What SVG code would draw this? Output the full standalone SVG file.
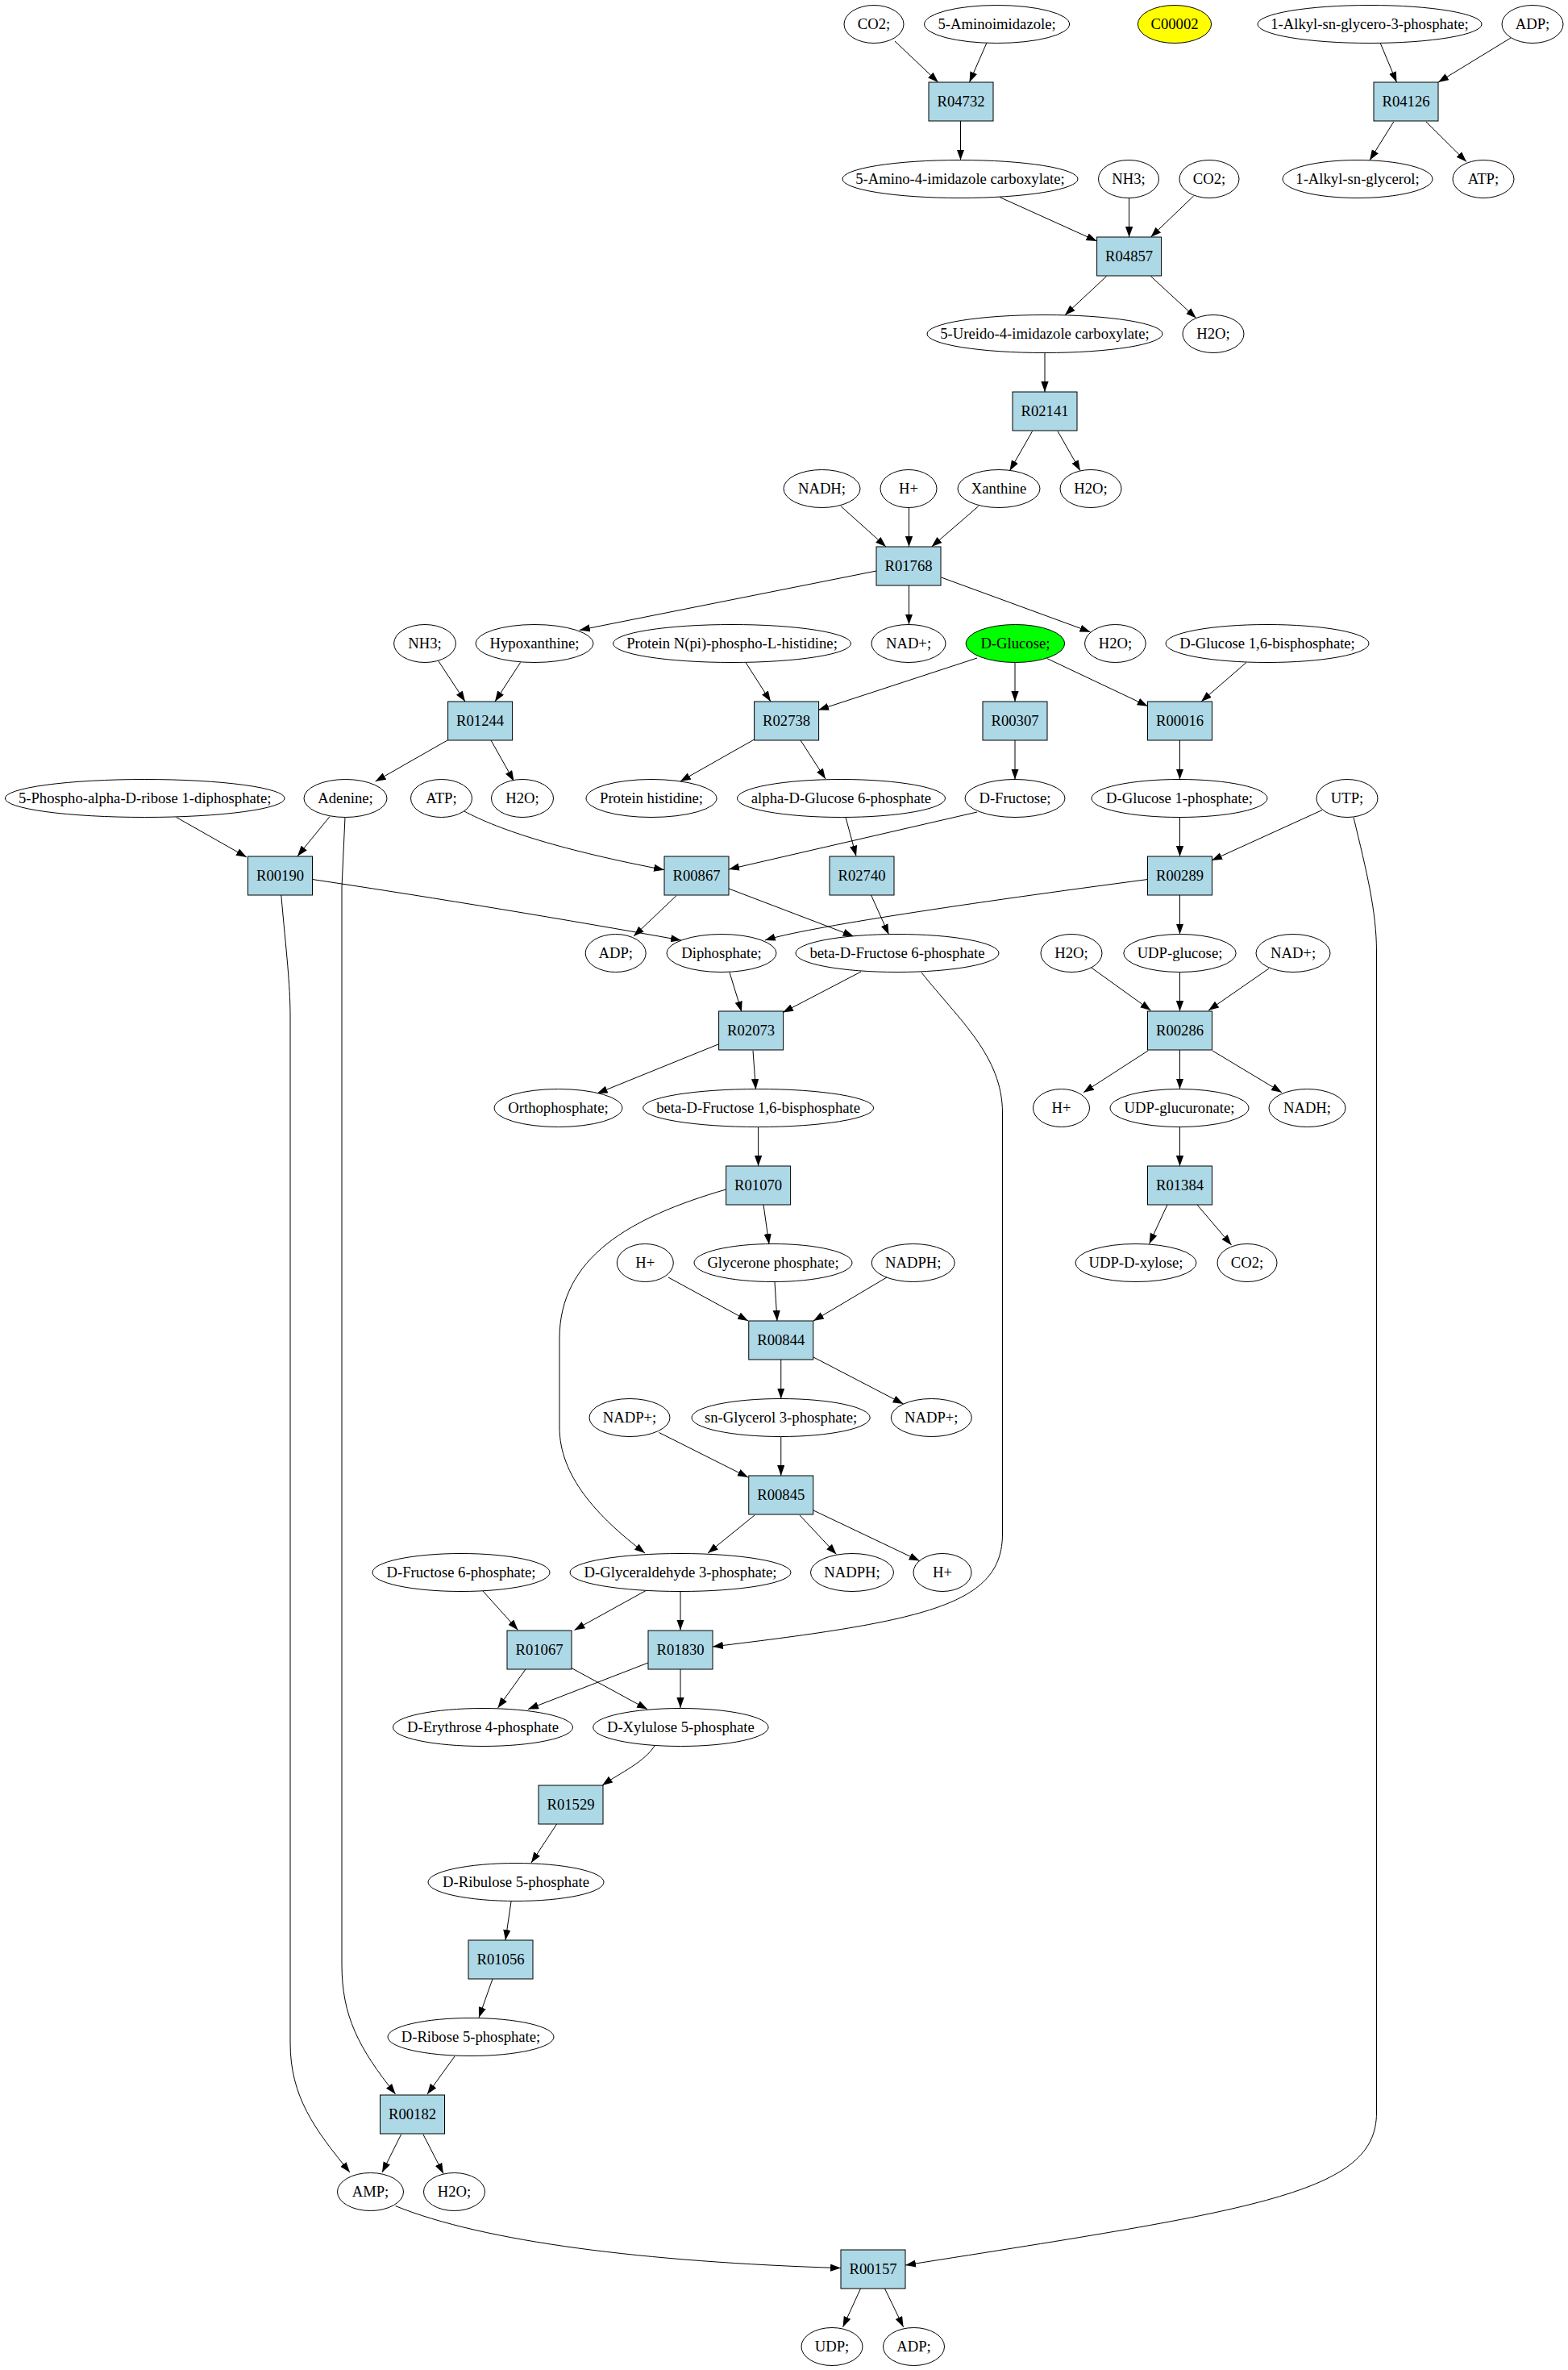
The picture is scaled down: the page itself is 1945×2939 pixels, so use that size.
<svg xmlns="http://www.w3.org/2000/svg" width="1945" height="2939" viewBox="0 0 1945 2939">
<style>
.n ellipse{fill:#fff;stroke:#000;stroke-width:1}
.r rect{fill:#add8e6;stroke:#000;stroke-width:1}
text{font-family:"Liberation Serif","Times New Roman",serif;font-size:18.67px;text-anchor:middle;fill:#000}
#edges path{fill:none;stroke:#000;stroke-width:1;marker-end:url(#a)}
</style>
<defs>
<marker id="a" markerUnits="userSpaceOnUse" markerWidth="14" markerHeight="10" refX="13" refY="4.65" orient="auto"><path d="M0,0 L13,4.65 L0,9.3 z" fill="#000"/></marker>
</defs>
<rect width="1945" height="2939" fill="#fff"/>
<g id="edges">
<path d="M1110,51 L1163.75,102"/>
<path d="M1224,53 L1202.5,102"/>
<path d="M1191.5,150 L1191.5,198.5"/>
<path d="M1712,53 L1732.5,102"/>
<path d="M1874,47 L1784,102"/>
<path d="M1728.75,151 L1699,198.7"/>
<path d="M1769,151 L1819,200.6"/>
<path d="M1240,244.5 L1360.6,299"/>
<path d="M1400.6,245.4 L1400.6,294"/>
<path d="M1480.6,243 L1427.5,294"/>
<path d="M1372.5,342.6 L1321,390.7"/>
<path d="M1427.5,342.6 L1483.75,394.5"/>
<path d="M1296,437.5 L1296,486"/>
<path d="M1280.6,534.7 L1252.5,583.8"/>
<path d="M1312,534.7 L1340,583.8"/>
<path d="M1043,627.7 L1099,678"/>
<path d="M1127.5,629.5 L1127.5,678"/>
<path d="M1213.75,627.7 L1155.6,678"/>
<path d="M1087,708 L718.75,781.4"/>
<path d="M1127.5,726 L1127.5,774.5"/>
<path d="M1167.5,716 L1352.5,783.7"/>
<path d="M543.75,819.6 L577,870"/>
<path d="M645.6,821.5 L614,870"/>
<path d="M925,821.5 L956,870"/>
<path d="M1212,816 L1015,880.5"/>
<path d="M1259,821.5 L1259,870"/>
<path d="M1299,816.7 L1423.75,875.7"/>
<path d="M1546,821.5 L1490,870"/>
<path d="M555,918 L465.6,969"/>
<path d="M609,918 L637.5,968.7"/>
<path d="M935.6,917 L843.75,969"/>
<path d="M993,918 L1024,966"/>
<path d="M1259,918 L1259,966.5"/>
<path d="M1463.5,918 L1463.5,966.5"/>
<path d="M218.75,1013.5 L306,1063"/>
<path d="M409,1012.6 L369,1061.7"/>
<path d="M575,1005.5 C620,1030 700,1055 824,1078.7"/>
<path d="M1212,1007 L904,1078"/>
<path d="M1049,1013.5 L1062,1061.7"/>
<path d="M1463.5,1013.5 L1463.5,1062"/>
<path d="M1640,1004.6 L1503,1067"/>
<path d="M387.5,1090.5 C550,1115 700,1140 845,1166"/>
<path d="M348.75,1110 C355,1180 360,1220 360,1260 L360,2533 C360,2600 390,2640 434,2694"/>
<path d="M428,1013.5 L424,1100 L424,2436 C424,2500 445,2540 490.6,2597"/>
<path d="M839,1110.7 L786,1161"/>
<path d="M904,1102 L1058.75,1161"/>
<path d="M1080.6,1110 L1102.5,1159"/>
<path d="M1423.75,1090.5 C1200,1120 1000,1150 948.75,1166"/>
<path d="M1463.5,1110 L1463.5,1158.5"/>
<path d="M1679,1013.5 C1695,1080 1707.5,1130 1707.5,1180 L1707.5,2620 C1707.5,2720 1560,2740 1123,2809"/>
<path d="M905,1206 L920,1254.7"/>
<path d="M1068,1205 L971,1255.6"/>
<path d="M1143,1206 C1190,1265 1243.5,1310 1243.5,1380 L1243.5,1902 C1243.5,1990 1150,2010 884,2042"/>
<path d="M1353.75,1200 L1427.5,1253"/>
<path d="M1463.5,1206 L1463.5,1254"/>
<path d="M1574,1201 L1499,1253"/>
<path d="M891,1295 L740.6,1356"/>
<path d="M934,1303 L937.5,1351"/>
<path d="M1424,1303 L1344,1354.7"/>
<path d="M1463.5,1302 L1463.5,1350.5"/>
<path d="M1504,1303 L1590,1354.7"/>
<path d="M940.6,1398 L940.6,1446"/>
<path d="M1463.5,1398 L1463.5,1446"/>
<path d="M947,1494 L954,1543"/>
<path d="M900.6,1475 C780,1510 694,1560 694,1660 L694,1770 C694,1830 740,1880 800,1926"/>
<path d="M1448,1494 L1425.6,1542.4"/>
<path d="M1485,1494 L1527.5,1544"/>
<path d="M829,1584 L928,1638"/>
<path d="M961,1590 L964,1638"/>
<path d="M1100,1584 L1009,1638"/>
<path d="M968.75,1686 L968.75,1734.5"/>
<path d="M1009,1683 L1120.6,1741"/>
<path d="M817.5,1776.5 L928,1832"/>
<path d="M968.75,1782 L968.75,1830"/>
<path d="M936,1879 L878,1926"/>
<path d="M992,1879 L1037.5,1927.5"/>
<path d="M1009,1873 L1140.6,1935.6"/>
<path d="M599,1973 L642.5,2021.4"/>
<path d="M802,1972 L712.5,2021.4"/>
<path d="M844,1973.5 L844,2021.5"/>
<path d="M652,2070 L617.5,2118"/>
<path d="M709,2068.6 L803,2119.6"/>
<path d="M804,2062 L655,2119.6"/>
<path d="M844,2070 L844,2118"/>
<path d="M812.5,2164 C800,2185 770,2198 747,2214"/>
<path d="M690.6,2262 L659,2310"/>
<path d="M634,2358 L627,2406"/>
<path d="M611,2454 L594,2502"/>
<path d="M564,2550 L530,2597"/>
<path d="M497.5,2647 L474,2694"/>
<path d="M525,2647 L550,2695.5"/>
<path d="M490.6,2735.6 C600,2780 800,2805 1043,2812.6"/>
<path d="M1067.5,2838 L1045.6,2885.7"/>
<path d="M1097.5,2838 L1120.6,2885.7"/>
</g>
<g id="n_co2_0" class="n"><ellipse cx="1084" cy="30" rx="37" ry="23.5"/><text x="1084" y="36">CO2;</text></g>
<g id="n_5ai" class="n"><ellipse cx="1236.6" cy="30" rx="90" ry="23.5"/><text x="1236.6" y="36">5-Aminoimidazole;</text></g>
<g id="n_c00002" class="n"><ellipse cx="1457" cy="30" rx="45.6" ry="23.5" style="fill:#ffff00"/><text x="1457" y="36">C00002</text></g>
<g id="n_alkylg3p" class="n"><ellipse cx="1699" cy="30" rx="139" ry="23.5"/><text x="1699" y="36">1-Alkyl-sn-glycero-3-phosphate;</text></g>
<g id="n_adp_0" class="n"><ellipse cx="1901" cy="30" rx="38" ry="23.5"/><text x="1901" y="36">ADP;</text></g>
<g id="R04732" class="r"><rect x="1152" y="102" width="80" height="48"/><text x="1192" y="132">R04732</text></g>
<g id="R04126" class="r"><rect x="1704" y="102" width="80" height="48"/><text x="1744" y="132">R04126</text></g>
<g id="n_5a4ic" class="n"><ellipse cx="1191" cy="222" rx="146" ry="23.5"/><text x="1191" y="228">5-Amino-4-imidazole carboxylate;</text></g>
<g id="n_nh3_2" class="n"><ellipse cx="1400" cy="222" rx="37.5" ry="23.5"/><text x="1400" y="228">NH3;</text></g>
<g id="n_co2_2" class="n"><ellipse cx="1500" cy="222" rx="37" ry="23.5"/><text x="1500" y="228">CO2;</text></g>
<g id="n_alkylg" class="n"><ellipse cx="1684" cy="222" rx="93" ry="23.5"/><text x="1684" y="228">1-Alkyl-sn-glycerol;</text></g>
<g id="n_atp_2" class="n"><ellipse cx="1840" cy="222" rx="38" ry="23.5"/><text x="1840" y="228">ATP;</text></g>
<g id="R04857" class="r"><rect x="1360.6" y="294" width="80" height="48"/><text x="1400.6" y="324">R04857</text></g>
<g id="n_5u4ic" class="n"><ellipse cx="1296" cy="414" rx="146" ry="23.5"/><text x="1296" y="420">5-Ureido-4-imidazole carboxylate;</text></g>
<g id="n_h2o_4" class="n"><ellipse cx="1505" cy="414" rx="38" ry="23.5"/><text x="1505" y="420">H2O;</text></g>
<g id="R02141" class="r"><rect x="1256" y="486" width="80" height="48"/><text x="1296" y="516">R02141</text></g>
<g id="n_nadh_6" class="n"><ellipse cx="1019.5" cy="606" rx="47.5" ry="23.5"/><text x="1019.5" y="612">NADH;</text></g>
<g id="n_hp_6" class="n"><ellipse cx="1127" cy="606" rx="35" ry="23.5"/><text x="1127" y="612">H+</text></g>
<g id="n_xanthine" class="n"><ellipse cx="1239" cy="606" rx="51" ry="23.5"/><text x="1239" y="612">Xanthine</text></g>
<g id="n_h2o_6" class="n"><ellipse cx="1353" cy="606" rx="38" ry="23.5"/><text x="1353" y="612">H2O;</text></g>
<g id="R01768" class="r"><rect x="1087" y="678" width="80" height="48"/><text x="1127" y="708">R01768</text></g>
<g id="n_nh3_8" class="n"><ellipse cx="527" cy="798" rx="38.4" ry="23.5"/><text x="527" y="804">NH3;</text></g>
<g id="n_hypoxanthine" class="n"><ellipse cx="663" cy="798" rx="73" ry="23.5"/><text x="663" y="804">Hypoxanthine;</text></g>
<g id="n_protnpi" class="n"><ellipse cx="908" cy="798" rx="147.5" ry="23.5"/><text x="908" y="804">Protein N(pi)-phospho-L-histidine;</text></g>
<g id="n_nadp_8" class="n"><ellipse cx="1127" cy="798" rx="46" ry="23.5"/><text x="1127" y="804">NAD+;</text></g>
<g id="n_dglucose" class="n"><ellipse cx="1259.4" cy="798" rx="61.3" ry="23.5" style="fill:#00ff00"/><text x="1259.4" y="804">D-Glucose;</text></g>
<g id="n_h2o_8" class="n"><ellipse cx="1383.4" cy="798" rx="37.8" ry="23.5"/><text x="1383.4" y="804">H2O;</text></g>
<g id="n_dglc16bp" class="n"><ellipse cx="1572" cy="798" rx="126" ry="23.5"/><text x="1572" y="804">D-Glucose 1,6-bisphosphate;</text></g>
<g id="R01244" class="r"><rect x="555.6" y="870" width="80" height="48"/><text x="595.6" y="900">R01244</text></g>
<g id="R02738" class="r"><rect x="935.6" y="870" width="80" height="48"/><text x="975.6" y="900">R02738</text></g>
<g id="R00307" class="r"><rect x="1219" y="870" width="80" height="48"/><text x="1259" y="900">R00307</text></g>
<g id="R00016" class="r"><rect x="1423.5" y="870" width="80" height="48"/><text x="1463.5" y="900">R00016</text></g>
<g id="n_prpp" class="n"><ellipse cx="179.7" cy="990" rx="173.4" ry="23.5"/><text x="179.7" y="996">5-Phospho-alpha-D-ribose 1-diphosphate;</text></g>
<g id="n_adenine" class="n"><ellipse cx="428.5" cy="990" rx="51.5" ry="23.5"/><text x="428.5" y="996">Adenine;</text></g>
<g id="n_atp_10" class="n"><ellipse cx="547.5" cy="990" rx="38" ry="23.5"/><text x="547.5" y="996">ATP;</text></g>
<g id="n_h2o_10" class="n"><ellipse cx="648" cy="990" rx="38.5" ry="23.5"/><text x="648" y="996">H2O;</text></g>
<g id="n_prothis" class="n"><ellipse cx="808" cy="990" rx="81" ry="23.5"/><text x="808" y="996">Protein histidine;</text></g>
<g id="n_aglc6p" class="n"><ellipse cx="1043.5" cy="990" rx="129" ry="23.5"/><text x="1043.5" y="996">alpha-D-Glucose 6-phosphate</text></g>
<g id="n_dfructose" class="n"><ellipse cx="1259" cy="990" rx="62" ry="23.5"/><text x="1259" y="996">D-Fructose;</text></g>
<g id="n_dglc1p" class="n"><ellipse cx="1463" cy="990" rx="109" ry="23.5"/><text x="1463" y="996">D-Glucose 1-phosphate;</text></g>
<g id="n_utp" class="n"><ellipse cx="1671" cy="990" rx="38" ry="23.5"/><text x="1671" y="996">UTP;</text></g>
<g id="R00190" class="r"><rect x="307.5" y="1062" width="80" height="48"/><text x="347.5" y="1092">R00190</text></g>
<g id="R00867" class="r"><rect x="824" y="1062" width="80" height="48"/><text x="864" y="1092">R00867</text></g>
<g id="R02740" class="r"><rect x="1029" y="1062" width="80" height="48"/><text x="1069" y="1092">R02740</text></g>
<g id="R00289" class="r"><rect x="1423.5" y="1062" width="80" height="48"/><text x="1463.5" y="1092">R00289</text></g>
<g id="n_adp_12" class="n"><ellipse cx="763.7" cy="1182" rx="37.5" ry="23.5"/><text x="763.7" y="1188">ADP;</text></g>
<g id="n_diphosphate" class="n"><ellipse cx="895" cy="1182" rx="68" ry="23.5"/><text x="895" y="1188">Diphosphate;</text></g>
<g id="n_bfru6p" class="n"><ellipse cx="1113" cy="1182" rx="126" ry="23.5"/><text x="1113" y="1188">beta-D-Fructose 6-phosphate</text></g>
<g id="n_h2o_12" class="n"><ellipse cx="1329" cy="1182" rx="38" ry="23.5"/><text x="1329" y="1188">H2O;</text></g>
<g id="n_udpglc" class="n"><ellipse cx="1463.5" cy="1182" rx="69.7" ry="23.5"/><text x="1463.5" y="1188">UDP-glucose;</text></g>
<g id="n_nadp_12" class="n"><ellipse cx="1604" cy="1182" rx="46" ry="23.5"/><text x="1604" y="1188">NAD+;</text></g>
<g id="R02073" class="r"><rect x="891.6" y="1254" width="80" height="48"/><text x="931.6" y="1284">R02073</text></g>
<g id="R00286" class="r"><rect x="1423.5" y="1254" width="80" height="48"/><text x="1463.5" y="1284">R00286</text></g>
<g id="n_orthophosphate" class="n"><ellipse cx="692.5" cy="1374" rx="79.4" ry="23.5"/><text x="692.5" y="1380">Orthophosphate;</text></g>
<g id="n_bfru16bp" class="n"><ellipse cx="940.6" cy="1374" rx="143" ry="23.5"/><text x="940.6" y="1380">beta-D-Fructose 1,6-bisphosphate</text></g>
<g id="n_hp_14" class="n"><ellipse cx="1316.5" cy="1374" rx="35" ry="23.5"/><text x="1316.5" y="1380">H+</text></g>
<g id="n_udpglca" class="n"><ellipse cx="1463" cy="1374" rx="86" ry="23.5"/><text x="1463" y="1380">UDP-glucuronate;</text></g>
<g id="n_nadh_14" class="n"><ellipse cx="1621.5" cy="1374" rx="47.5" ry="23.5"/><text x="1621.5" y="1380">NADH;</text></g>
<g id="R01070" class="r"><rect x="900.6" y="1446" width="80" height="48"/><text x="940.6" y="1476">R01070</text></g>
<g id="R01384" class="r"><rect x="1423.5" y="1446" width="80" height="48"/><text x="1463.5" y="1476">R01384</text></g>
<g id="n_hp_16" class="n"><ellipse cx="800.3" cy="1566" rx="35" ry="23.5"/><text x="800.3" y="1572">H+</text></g>
<g id="n_glycerone" class="n"><ellipse cx="959" cy="1566" rx="98" ry="23.5"/><text x="959" y="1572">Glycerone phosphate;</text></g>
<g id="n_nadph_16" class="n"><ellipse cx="1132.7" cy="1566" rx="51.5" ry="23.5"/><text x="1132.7" y="1572">NADPH;</text></g>
<g id="n_udpxyl" class="n"><ellipse cx="1409" cy="1566" rx="75" ry="23.5"/><text x="1409" y="1572">UDP-D-xylose;</text></g>
<g id="n_co2_16" class="n"><ellipse cx="1547" cy="1566" rx="37" ry="23.5"/><text x="1547" y="1572">CO2;</text></g>
<g id="R00844" class="r"><rect x="928.75" y="1638" width="80" height="48"/><text x="968.75" y="1668">R00844</text></g>
<g id="n_nadpp_18a" class="n"><ellipse cx="781" cy="1758" rx="50" ry="23.5"/><text x="781" y="1764">NADP+;</text></g>
<g id="n_sngly3p" class="n"><ellipse cx="968.6" cy="1758" rx="110.6" ry="23.5"/><text x="968.6" y="1764">sn-Glycerol 3-phosphate;</text></g>
<g id="n_nadpp_18b" class="n"><ellipse cx="1155.3" cy="1758" rx="50" ry="23.5"/><text x="1155.3" y="1764">NADP+;</text></g>
<g id="R00845" class="r"><rect x="928.75" y="1830" width="80" height="48"/><text x="968.75" y="1860">R00845</text></g>
<g id="n_dfru6p" class="n"><ellipse cx="572" cy="1950" rx="110" ry="23.5"/><text x="572" y="1956">D-Fructose 6-phosphate;</text></g>
<g id="n_dgap" class="n"><ellipse cx="844" cy="1950" rx="137" ry="23.5"/><text x="844" y="1956">D-Glyceraldehyde 3-phosphate;</text></g>
<g id="n_nadph_20" class="n"><ellipse cx="1057" cy="1950" rx="51.5" ry="23.5"/><text x="1057" y="1956">NADPH;</text></g>
<g id="n_hp_20" class="n"><ellipse cx="1169" cy="1950" rx="36" ry="23.5"/><text x="1169" y="1956">H+</text></g>
<g id="R01067" class="r"><rect x="629" y="2022" width="80" height="48"/><text x="669" y="2052">R01067</text></g>
<g id="R01830" class="r"><rect x="804" y="2022" width="80" height="48"/><text x="844" y="2052">R01830</text></g>
<g id="n_dery4p" class="n"><ellipse cx="599" cy="2142" rx="111.5" ry="23.5"/><text x="599" y="2148">D-Erythrose 4-phosphate</text></g>
<g id="n_dxyl5p" class="n"><ellipse cx="844.4" cy="2142" rx="108.7" ry="23.5"/><text x="844.4" y="2148">D-Xylulose 5-phosphate</text></g>
<g id="R01529" class="r"><rect x="668" y="2214" width="80" height="48"/><text x="708" y="2244">R01529</text></g>
<g id="n_dribu5p" class="n"><ellipse cx="640" cy="2334" rx="109" ry="23.5"/><text x="640" y="2340">D-Ribulose 5-phosphate</text></g>
<g id="R01056" class="r"><rect x="581" y="2406" width="80" height="48"/><text x="621" y="2436">R01056</text></g>
<g id="n_drib5p" class="n"><ellipse cx="584" cy="2526" rx="103" ry="23.5"/><text x="584" y="2532">D-Ribose 5-phosphate;</text></g>
<g id="R00182" class="r"><rect x="471.5" y="2598" width="80" height="48"/><text x="511.5" y="2628">R00182</text></g>
<g id="n_amp" class="n"><ellipse cx="459.5" cy="2718" rx="41" ry="23.5"/><text x="459.5" y="2724">AMP;</text></g>
<g id="n_h2o_28" class="n"><ellipse cx="563.5" cy="2718" rx="38" ry="23.5"/><text x="563.5" y="2724">H2O;</text></g>
<g id="R00157" class="r"><rect x="1043" y="2790" width="80" height="48"/><text x="1083" y="2820">R00157</text></g>
<g id="n_udp" class="n"><ellipse cx="1032" cy="2910" rx="38" ry="23.5"/><text x="1032" y="2916">UDP;</text></g>
<g id="n_adp_30" class="n"><ellipse cx="1133.5" cy="2910" rx="38" ry="23.5"/><text x="1133.5" y="2916">ADP;</text></g>
</svg>
